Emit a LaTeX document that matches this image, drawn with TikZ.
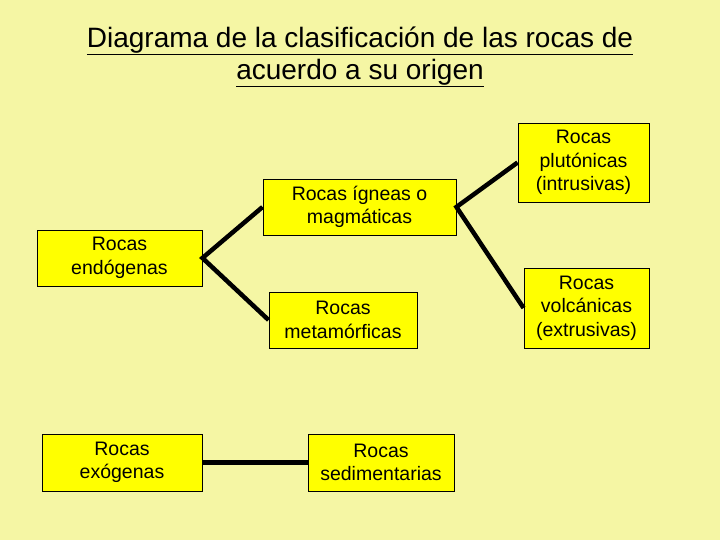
\documentclass[tikz,border=0pt]{standalone}
\usepackage{fontspec}
\setmainfont{Liberation Sans}
\definecolor{bg}{RGB}{245,246,164}
\definecolor{boxy}{RGB}{255,255,0}
\begin{document}
\begin{tikzpicture}[x=1pt,y=-1pt,
  box/.style={draw=black,line width=0.9pt,fill=boxy,inner sep=0pt,align=center,
    font=\fontsize{19.5}{23.5}\selectfont},
  conn/.style={line width=4.5pt,black}]
\fill[bg] (0,0) rectangle (720,540);
\useasboundingbox (0,0) rectangle (720,540);
\node[font=\fontsize{28}{32}\selectfont,align=center] (title) at (360,57)
  {\underline{Diagrama de la clasificación de las rocas de}\\\underline{acuerdo a su origen}};
\node[box,minimum width=165,minimum height=56] (endo) at (119.5,258) {Rocas\\endógenas};
\node[box,minimum width=193,minimum height=56] (ign) at (359.5,207) {Rocas ígneas o\\magmáticas};
\node[box,minimum width=148,minimum height=56] (meta) at (343,320) {Rocas\\metamórficas};
\node[box,minimum width=131,minimum height=79] (plut) at (583.5,162.5) {Rocas\\plutónicas\\(intrusivas)};
\node[box,minimum width=125,minimum height=80] (volc) at (586.5,308) {Rocas\\volcánicas\\(extrusivas)};
\node[box,minimum width=160,minimum height=57] (exo) at (122,462.5) {Rocas\\exógenas};
\node[box,minimum width=146,minimum height=57] (sed) at (381,462.5) {Rocas\\sedimentarias};
\draw[conn] (ign.west) -- (endo.east) -- (meta.west);
\draw[conn] (plut.west) -- (ign.east) -- (volc.west);
\draw[conn] (exo.east) -- (sed.west);
\end{tikzpicture}
\end{document}
